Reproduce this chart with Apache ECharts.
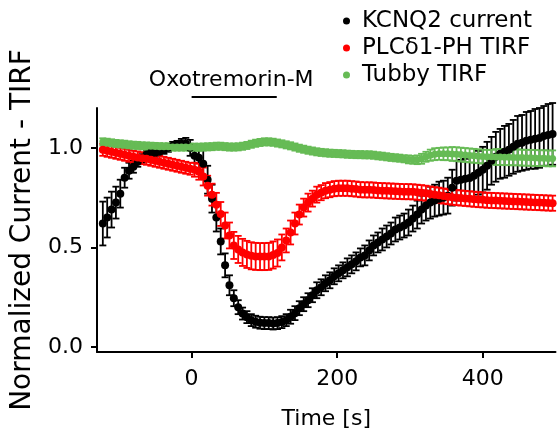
<!DOCTYPE html>
<html>
<head>
<meta charset="utf-8">
<script src="https://cdn.jsdelivr.net/npm/echarts@6/dist/echarts.min.js"></script>
<style>html,body{margin:0;padding:0;background:#fff;}#c{width:558px;height:436px;}</style>
</head>
<body>
<div id="c"></div>
<script>
// ---- data ----
const time = [-122,-116,-110,-104,-98,-92,-86,-80,-74,-68,-62,-56,-50,-44,-38,-32,-26,-20,-14,-8,-2,
  4,10,16,22,28,34,40,46,52,58,64,70,76,82,88,94,100,106,112,118,124,130,136,142,148,154,160,166,172,
  178,184,190,196,202,208,214,220,226,232,238,244,250,256,262,268,274,280,286,292,298,304,310,316,322,
  328,334,340,346,352,358,364,370,376,382,388,394,400,406,412,418,424,430,436,442,448,454,460,466,472,
  478,484,490,496];

const kcnq2 = [0.62,0.65,0.69,0.725,0.77,0.85,0.885,0.905,0.93,0.95,
  0.965,0.975,0.975,0.98,0.99,1.0,1.01,1.015,1.02,1.02,
  1.0,0.96,0.95,0.92,0.84,0.745,0.65,0.53,0.41,0.31,
  0.245,0.2,0.168,0.15,0.135,0.127,0.122,0.12,0.12,0.118,
  0.12,0.125,0.135,0.152,0.17,0.195,0.215,0.235,0.26,0.285,
  0.3,0.32,0.335,0.355,0.37,0.385,0.4,0.415,0.43,0.45,
  0.46,0.485,0.51,0.525,0.54,0.555,0.57,0.59,0.6,0.61,
  0.625,0.645,0.665,0.69,0.71,0.725,0.735,0.745,0.75,0.76,
  0.8,0.835,0.84,0.845,0.848,0.86,0.875,0.89,0.91,0.935,
  0.955,0.97,0.98,0.99,1.005,1.02,1.025,1.035,1.04,1.045,
  1.05,1.06,1.065,1.07];
const kcnq2Err = [0.11,0.1,0.09,0.08,0.07,0.05,0.04,0.03,0.025,0.025,
  0.02,0.02,0.02,0.02,0.02,0.02,0.02,0.02,0.025,0.03,
  0.04,0.06,0.06,0.07,0.07,0.07,0.07,0.065,0.06,0.05,
  0.04,0.035,0.03,0.03,0.03,0.03,0.03,0.03,0.03,0.03,
  0.03,0.03,0.03,0.035,0.035,0.035,0.035,0.035,0.035,0.04,
  0.04,0.04,0.04,0.04,0.04,0.04,0.045,0.045,0.045,0.045,
  0.05,0.05,0.05,0.05,0.055,0.055,0.055,0.06,0.06,0.06,
  0.065,0.065,0.07,0.07,0.075,0.08,0.08,0.085,0.085,0.09,
  0.09,0.1,0.1,0.1,0.105,0.11,0.11,0.115,0.12,0.12,
  0.125,0.125,0.13,0.13,0.135,0.14,0.14,0.145,0.145,0.15,
  0.15,0.15,0.155,0.155];

const plc = [0.99,0.985,0.98,0.975,0.97,0.965,0.96,0.955,0.952,0.948,
  0.945,0.94,0.935,0.93,0.925,0.92,0.915,0.91,0.905,0.9,
  0.895,0.89,0.88,0.856,0.81,0.765,0.714,0.668,0.61,0.56,
  0.51,0.49,0.475,0.465,0.458,0.455,0.454,0.454,0.455,0.462,
  0.472,0.5,0.535,0.575,0.62,0.665,0.7,0.725,0.745,0.765,
  0.775,0.785,0.79,0.795,0.797,0.797,0.797,0.795,0.793,0.79,
  0.789,0.789,0.788,0.786,0.785,0.784,0.783,0.782,0.781,0.78,
  0.78,0.779,0.777,0.775,0.772,0.768,0.765,0.762,0.758,0.755,
  0.752,0.75,0.748,0.746,0.744,0.742,0.74,0.739,0.737,0.736,
  0.735,0.734,0.733,0.732,0.731,0.73,0.729,0.728,0.727,0.726,
  0.725,0.724,0.723,0.722];
const plcErr = [0.03,0.03,0.03,0.03,0.03,0.03,0.03,0.03,0.03,0.03,
  0.03,0.03,0.03,0.03,0.03,0.03,0.03,0.03,0.03,0.03,
  0.03,0.035,0.04,0.045,0.05,0.055,0.06,0.06,0.065,0.065,
  0.068,0.068,0.068,0.068,0.068,0.068,0.068,0.068,0.068,0.068,
  0.068,0.065,0.06,0.06,0.055,0.05,0.045,0.045,0.04,0.04,
  0.038,0.038,0.038,0.038,0.038,0.038,0.038,0.038,0.038,0.038,
  0.038,0.038,0.038,0.038,0.038,0.038,0.038,0.038,0.038,0.038,
  0.038,0.038,0.038,0.038,0.038,0.038,0.038,0.038,0.038,0.038,
  0.038,0.038,0.038,0.038,0.038,0.038,0.038,0.038,0.038,0.038,
  0.038,0.038,0.038,0.038,0.038,0.038,0.038,0.038,0.038,0.038,
  0.038,0.038,0.038,0.038];

const tubby = [1.03,1.028,1.025,1.022,1.02,1.018,1.015,1.013,1.012,1.01,
  1.009,1.008,1.007,1.006,1.005,1.005,1.004,1.004,1.004,1.004,
  1.003,1.003,1.003,1.004,1.005,1.006,1.008,1.008,1.006,1.004,
  1.004,1.005,1.008,1.012,1.018,1.023,1.027,1.03,1.03,1.028,
  1.024,1.02,1.015,1.01,1.004,0.998,0.993,0.988,0.984,0.98,
  0.977,0.975,0.973,0.972,0.971,0.97,0.968,0.967,0.966,0.966,
  0.965,0.965,0.963,0.96,0.958,0.955,0.952,0.95,0.948,0.945,
  0.942,0.94,0.94,0.945,0.955,0.963,0.968,0.97,0.97,0.97,
  0.969,0.968,0.966,0.964,0.962,0.96,0.958,0.956,0.955,0.955,
  0.954,0.954,0.953,0.953,0.952,0.952,0.951,0.95,0.95,0.949,
  0.948,0.948,0.947,0.947];
const tubbyErr = [0.018,0.018,0.018,0.018,0.018,0.018,0.018,0.018,0.018,0.018,
  0.018,0.018,0.018,0.018,0.018,0.018,0.018,0.018,0.018,0.018,
  0.018,0.018,0.018,0.018,0.018,0.018,0.018,0.018,0.018,0.018,
  0.018,0.018,0.018,0.018,0.018,0.018,0.018,0.018,0.018,0.018,
  0.018,0.018,0.018,0.018,0.018,0.018,0.018,0.018,0.018,0.018,
  0.018,0.018,0.018,0.018,0.018,0.018,0.018,0.018,0.018,0.018,
  0.018,0.018,0.018,0.018,0.018,0.018,0.018,0.018,0.018,0.018,
  0.02,0.02,0.022,0.025,0.025,0.028,0.03,0.03,0.032,0.032,
  0.035,0.035,0.035,0.035,0.035,0.035,0.035,0.035,0.035,0.035,
  0.04,0.04,0.04,0.04,0.04,0.04,0.04,0.04,0.04,0.04,
  0.04,0.04,0.04,0.04];

const seriesNames = ['KCNQ2 current', 'PLC\u03b41-PH TIRF', 'Tubby TIRF'];
const stimulus = [[0, 117]];
const stimulusLabel = 'Oxotremorin-M';
const xTicks = [0, 200, 400];
const yTicks = [0, 0.5, 1.0];
const xTitle = 'Time [s]';
const yTitle = 'Normalized Current - TIRF';

// ---- style ----
const FONT = 'DejaVu Sans';
const colors = ['#000000', '#ff0000', '#66bb55'];

function pairs(vals) { return time.map((t, i) => [t, vals[i]]); }
function bars(vals, errs) { return time.map((t, i) => [t, vals[i] - errs[i], vals[i] + errs[i]]); }

function errorBarSeries(data, color, capHalf, lw) {
  return {
    type: 'custom',
    clip: false,
    silent: true,
    data: data,
    renderItem: function (params, api) {
      const x = api.value(0);
      const lo = api.coord([x, api.value(1)]);
      const hi = api.coord([x, api.value(2)]);
      const st = { stroke: color, lineWidth: lw, opacity: 1 };
      return {
        type: 'group',
        children: [
          { type: 'line', shape: { x1: lo[0], y1: lo[1], x2: hi[0], y2: hi[1] }, style: st },
          { type: 'line', shape: { x1: lo[0] - capHalf, y1: lo[1], x2: lo[0] + capHalf, y2: lo[1] }, style: st },
          { type: 'line', shape: { x1: hi[0] - capHalf, y1: hi[1], x2: hi[0] + capHalf, y2: hi[1] }, style: st }
        ]
      };
    }
  };
}

function scatterSeries(name, vals, color, size) {
  return {
    type: 'scatter', name: name, data: pairs(vals), symbol: 'circle', symbolSize: size,
    itemStyle: { color: color, opacity: 1 }, silent: true
  };
}

const chart = echarts.init(document.getElementById('c'), null, { renderer: 'canvas' });
chart.setOption({
  animation: false,
  backgroundColor: '#ffffff',
  grid: { left: 97, right: 2.5, top: 108, bottom: 84 },
  legend: {
    data: seriesNames,
    orient: 'vertical',
    left: 343, top: 9,
    padding: 0,
    itemGap: 3,
    itemWidth: 7, itemHeight: 7,
    icon: 'circle',
    selectedMode: false,
    itemStyle: { opacity: 1 },
    textStyle: { fontFamily: FONT, fontSize: 23, color: '#000', lineHeight: 24, padding: [0, 0, 0, 7] }
  },
  xAxis: {
    type: 'value', min: -130, max: 500,
    name: xTitle, nameLocation: 'middle', nameGap: 56,
    nameTextStyle: { fontFamily: FONT, fontSize: 22, color: '#000' },
    axisLine: { onZero: false, lineStyle: { color: '#000', width: 2 } },
    axisTick: { show: true, length: 6, lineStyle: { color: '#000', width: 2 }, customValues: xTicks },
    axisLabel: { fontFamily: FONT, fontSize: 22, color: '#000', margin: 16, customValues: xTicks },
    splitLine: { show: false }
  },
  yAxis: {
    type: 'value', min: -0.025, max: 1.2,
    name: yTitle, nameLocation: 'middle', nameGap: 60, nameRotate: 90,
    nameTextStyle: { fontFamily: FONT, fontSize: 28, color: '#000' },
    axisLine: { onZero: false, lineStyle: { color: '#000', width: 2 } },
    axisTick: { show: true, length: 6, lineStyle: { color: '#000', width: 2 }, customValues: yTicks },
    axisLabel: { fontFamily: FONT, fontSize: 22, color: '#000', margin: 14, customValues: yTicks,
      formatter: v => v.toFixed(1) },
    splitLine: { show: false }
  },
  series: [
    errorBarSeries(bars(kcnq2, kcnq2Err), colors[0], 3.5, 1.8),
    scatterSeries(seriesNames[0], kcnq2, colors[0], 8),
    errorBarSeries(bars(plc, plcErr), colors[1], 3.5, 1.8),
    scatterSeries(seriesNames[1], plc, colors[1], 8),
    errorBarSeries(bars(tubby, tubbyErr), colors[2], 3.5, 1.8),
    scatterSeries(seriesNames[2], tubby, colors[2], 7),
    {
      type: 'custom', clip: false, silent: true, data: stimulus,
      renderItem: function (params, api) {
        const a = api.coord([api.value(0), 1.2]);
        const b = api.coord([api.value(1), 1.2]);
        const y = a[1] - 11;
        return {
          type: 'group',
          children: [
            { type: 'line', shape: { x1: a[0], y1: y, x2: b[0], y2: y }, style: { stroke: '#000', lineWidth: 2 } },
            { type: 'text', x: (a[0] + b[0]) / 2 - 3, y: y - 17,
              style: { text: stimulusLabel, align: 'center', verticalAlign: 'middle', fontFamily: FONT, fontSize: 22, fill: '#000' } }
          ]
        };
      }
    }
  ]
});
</script>
</body>
</html>
